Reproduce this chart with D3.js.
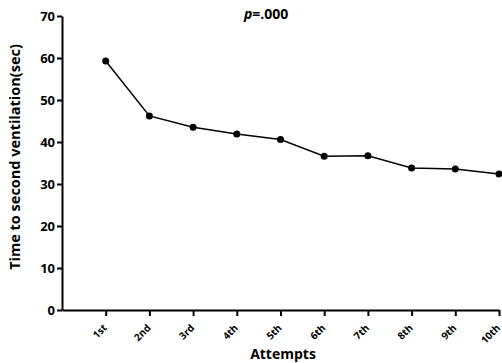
<!DOCTYPE html>
<html>
<head>
<meta charset="utf-8">
<script src="https://cdn.jsdelivr.net/npm/d3@7"></script>
<style>
  body { margin: 0; background: #fff; }
  svg text { font-family: "Open Sans", "DejaVu Sans", sans-serif; font-weight: bold; }
</style>
</head>
<body>
<div class="chart"></div>
<script>
// attempts and mean time (sec)
const attempts = ["1st", "2nd", "3rd", "4th", "5th", "6th", "7th", "8th", "9th", "10th"];
const times = [59.3, 46.2, 43.5, 41.9, 40.6, 36.6, 36.7, 33.8, 33.6, 32.4];
const yTicks = [0, 10, 20, 30, 40, 50, 60, 70];

var margin = {top: 16, right: 3, bottom: 53, left: 62},
    width = 502 - margin.left - margin.right,
    height = 363 - margin.top - margin.bottom;

var svg = d3.select(".chart")
    .append("svg")
    .attr("width", 502)
    .attr("height", 363)
    .append("g")
    .attr("transform", "translate(" + margin.left + "," + margin.top + ")");

// position 0 is the axis origin, attempts sit at 1..10
var x = d3.scaleLinear()
    .domain([0, attempts.length])
    .range([0, width]);

var y = d3.scaleLinear()
    .domain([0, 70])
    .range([height, 0]);

var data = attempts.map((a, i) => ({attempt: a, idx: i + 1, time: times[i]}));

var xAxis = svg.append("g")
    .attr("transform", "translate(0," + height + ")")
    .call(d3.axisBottom(x)
        .tickValues(data.map(d => d.idx))
        .tickFormat((d, i) => attempts[i])
        .tickSize(6)
        .tickSizeOuter(0));

xAxis.selectAll("text")
    .attr("x", 0)
    .attr("y", 0)
    .attr("dy", "0.35em")
    .attr("transform", "translate(-1,16) rotate(-45)")
    .attr("text-anchor", "end")
    .style("font-size", "10px");

var yAxis = svg.append("g")
    .call(d3.axisLeft(y)
        .tickValues(yTicks)
        .tickSize(5)
        .tickSizeOuter(0));

yAxis.selectAll("text")
    .attr("x", -7)
    .style("font-size", "13px");

svg.selectAll(".domain, .tick line")
    .attr("stroke", "#000")
    .attr("stroke-width", 2);

svg.selectAll(".tick text").attr("fill", "#000");

svg.append("path")
    .datum(data)
    .attr("fill", "none")
    .attr("stroke", "#000")
    .attr("stroke-width", 1.5)
    .attr("d", d3.line()
        .x(d => x(d.idx))
        .y(d => y(d.time)));

svg.append("g")
    .selectAll("circle")
    .data(data)
    .enter()
    .append("circle")
    .attr("cx", d => x(d.idx))
    .attr("cy", d => y(d.time))
    .attr("r", 3.5)
    .attr("fill", "#000");

// axis titles
svg.append("text")
    .attr("transform", "rotate(-90)")
    .attr("x", -height / 2 + 6)
    .attr("y", -42)
    .attr("text-anchor", "middle")
    .style("font-size", "14.5px")
    .text("Time to second ventilation(sec)");

svg.append("text")
    .attr("x", 221)
    .attr("y", height + 49)
    .attr("text-anchor", "middle")
    .style("font-size", "14px")
    .text("Attempts");

var p = svg.append("text")
    .attr("x", 182)
    .attr("y", 3)
    .style("font-size", "14px");
p.append("tspan").style("font-style", "italic").text("p");
p.append("tspan").text("=.000");
</script>
</body>
</html>
